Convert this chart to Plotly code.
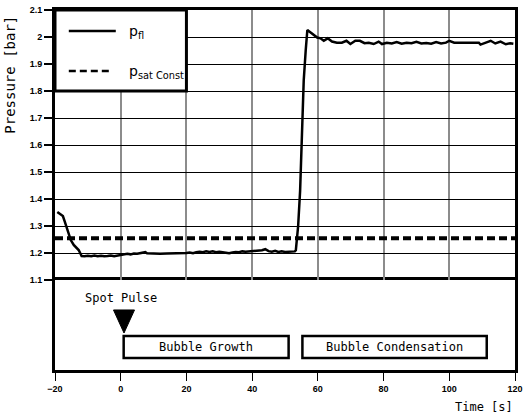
import plotly.graph_objects as go

# ---------------- data ----------------
time_s = [-19.3, -18.5, -17.6, -17.0, -16.1, -15.2, -14.3, -12.8, -11.9, -11,
          -10, -9, -8, -7, -6, -5, -4, -3, -2, -1,
          0, 1, 2, 3, 4, 5, 6, 7, 7.5, 8,
          9, 10, 12, 14, 16, 18, 19, 20, 21, 22,
          23, 24, 25, 26, 27, 28, 29, 30, 31, 32,
          33, 34, 35, 36, 37, 38, 39, 40, 41, 42,
          43, 44, 45, 46, 47, 48, 49, 50, 51, 52,
          53, 53.3, 54, 54.6, 55.2, 55.7, 56.3, 56.8, 58, 58.8,
          59.8, 60.8, 61.8, 63, 64.3, 65.8, 67.3, 68.7, 69.9, 71.4,
          72.8, 74.2, 75.5, 77, 78.5, 79.5, 81, 82.5, 84, 85.5,
          87, 88.5, 90, 91.5, 93, 94.5, 96, 97.5, 99, 100,
          101.5, 103, 105, 107, 109, 109.5, 111, 112.6, 114, 115.6,
          117.2, 118.5, 119.5]
p_fl_bar = [1.352, 1.345, 1.337, 1.315, 1.278, 1.248, 1.230, 1.211, 1.189, 1.188,
            1.190, 1.188, 1.191, 1.188, 1.190, 1.188, 1.189, 1.191, 1.188, 1.190,
            1.194, 1.196, 1.197, 1.195, 1.198, 1.197, 1.199, 1.201, 1.203, 1.199,
            1.198, 1.198, 1.197, 1.198, 1.198, 1.198, 1.199, 1.200, 1.202, 1.199,
            1.203, 1.205, 1.203, 1.206, 1.204, 1.206, 1.203, 1.205, 1.203, 1.201,
            1.199, 1.202, 1.204, 1.203, 1.206, 1.205, 1.206, 1.207, 1.207, 1.208,
            1.210, 1.214, 1.207, 1.205, 1.208, 1.204, 1.206, 1.204, 1.205, 1.207,
            1.206, 1.210, 1.300, 1.430, 1.620, 1.840, 1.950, 2.026, 2.015, 2.007,
            1.998, 1.995, 1.986, 1.995, 1.983, 1.979, 1.979, 1.986, 1.974, 1.986,
            1.986, 1.977, 1.979, 1.974, 1.983, 1.974, 1.979, 1.976, 1.981, 1.975,
            1.979, 1.977, 1.982, 1.976, 1.978, 1.975, 1.981, 1.976, 1.979, 1.986,
            1.979, 1.979, 1.979, 1.979, 1.979, 1.972, 1.979, 1.986, 1.976, 1.983,
            1.973, 1.977, 1.975]
p_sat_const_bar = 1.255
time_range = [-20, 120]

x_ticks = [-20, 0, 20, 40, 60, 80, 100, 120]
y_ticks = [1.1, 1.2, 1.3, 1.4, 1.5, 1.6, 1.7, 1.8, 1.9, 2.0, 2.1]
y_ticktext = ["1.1", "1.2", "1.3", "1.4", "1.5", "1.6", "1.7", "1.8", "1.9", "2", "2.1"]

spot_pulse_t = 1.0
phase_labels = ["Bubble Growth", "Bubble Condensation"]
phase_start = [0.9, 55.3]
phase_end = [51.1, 111.4]

# ---------------- figure ----------------
MONO = "DejaVu Sans Mono"
SANS = "DejaVu Sans"

fig = go.Figure()

fig.add_trace(go.Scatter(
    x=time_range, y=[p_sat_const_bar, p_sat_const_bar], mode="lines",
    line=dict(color="black", width=4, dash="8px,4px"),
    xaxis="x2", yaxis="y", showlegend=False, name="p_sat Const"))
fig.add_trace(go.Scatter(
    x=time_s, y=p_fl_bar, mode="lines",
    line=dict(color="black", width=2.5),
    xaxis="x2", yaxis="y", showlegend=False, name="p_fl"))

# spot pulse triangle (lower panel)
tri_half = 3.2
tri_top, tri_tip = 0.667, 0.411
fig.add_trace(go.Scatter(
    x=[spot_pulse_t - tri_half, spot_pulse_t + tri_half, spot_pulse_t, spot_pulse_t - tri_half],
    y=[tri_top, tri_top, tri_tip, tri_top],
    mode="lines", fill="toself", fillcolor="black",
    line=dict(color="black", width=1),
    xaxis="x", yaxis="y2", showlegend=False, hoverinfo="skip"))

shapes = []
annotations = []

# legend box
shapes.append(dict(type="rect", xref="x2", yref="y", x0=-20, x1=20, y0=1.8, y1=2.1,
                   fillcolor="white", line=dict(color="black", width=3), layer="above"))
shapes.append(dict(type="line", xref="x2", yref="y", x0=-15.8, x1=-1.5, y0=2.022, y1=2.022,
                   line=dict(color="black", width=2.5), layer="above"))
shapes.append(dict(type="line", xref="x2", yref="y", x0=-15.8, x1=-3.0, y0=1.874, y1=1.874,
                   line=dict(color="black", width=2.5, dash="7px,4px"), layer="above"))
annotations.append(dict(xref="x2", yref="y", x=2.0, y=2.018, xanchor="left", yanchor="middle",
                        text="p<sub>fl</sub>", showarrow=False,
                        font=dict(family=SANS, size=14, color="black")))
annotations.append(dict(xref="x2", yref="y", x=2.0, y=1.872, xanchor="left", yanchor="middle",
                        text="p<sub>sat Const</sub>", showarrow=False,
                        font=dict(family=SANS, size=14, color="black")))

# phase boxes (lower panel)
for lab, a, b in zip(phase_labels, phase_start, phase_end):
    shapes.append(dict(type="rect", xref="x", yref="y2", x0=a, x1=b, y0=0.133, y1=0.378,
                       fillcolor="white", line=dict(color="black", width=2.5), layer="above"))
    annotations.append(dict(xref="x", yref="y2", x=(a + b) / 2, y=0.26, text=lab,
                            showarrow=False, font=dict(family=MONO, size=12, color="black")))

annotations.append(dict(xref="x", yref="y2", x=0, y=0.8, text="Spot Pulse", showarrow=False,
                        font=dict(family=MONO, size=12, color="black")))

# axis titles
annotations.append(dict(xref="paper", yref="paper", x=-0.098, y=0.82, text="Pressure [bar]",
                        textangle=-90, showarrow=False, xanchor="center", yanchor="middle",
                        font=dict(family=MONO, size=14, color="black")))
annotations.append(dict(xref="paper", yref="paper", x=1.0, y=-0.103, text="Time [s]",
                        showarrow=False, xanchor="right", yanchor="middle",
                        font=dict(family=MONO, size=12, color="black")))

tickfont = dict(family="Liberation Sans", size=9, color="black", weight="bold")

fig.update_layout(
    width=523, height=417,
    margin=dict(l=55, r=8, t=10, b=47),
    paper_bgcolor="white", plot_bgcolor="white",
    showlegend=False,
    shapes=shapes, annotations=annotations,
    xaxis=dict(domain=[0, 1], anchor="y2", range=time_range, tickvals=x_ticks,
               ticks="outside", ticklen=8, tickwidth=1, tickcolor="black",
               showline=True, linewidth=3, linecolor="black", mirror=True,
               showgrid=False, zeroline=False, tickfont=tickfont, automargin=False,
               ticklabeloverflow="allow"),
    xaxis2=dict(domain=[0, 1], anchor="y", side="top", range=time_range, matches="x",
                tickvals=x_ticks, showticklabels=False, ticks="",
                showgrid=True, gridcolor="#8c8c8c", gridwidth=1.5,
                showline=True, linewidth=3, linecolor="black", mirror=False,
                zeroline=False, automargin=False),
    yaxis=dict(domain=[0.25, 1], anchor="x2", range=[1.1, 2.1], tickvals=y_ticks,
               ticktext=y_ticktext, ticks="outside", ticklen=8, tickwidth=2, tickcolor="black",
               showgrid=True, gridcolor="black", gridwidth=1,
               showline=True, linewidth=3, linecolor="black", mirror=True,
               zeroline=False, tickfont=tickfont, automargin=False,
               ticklabeloverflow="allow"),
    yaxis2=dict(domain=[0, 0.25], anchor="x", range=[0, 1], showticklabels=False, ticks="",
                showgrid=False, zeroline=False,
                showline=True, linewidth=3, linecolor="black", mirror=True, automargin=False),
)

fig.write_html("out.html")
